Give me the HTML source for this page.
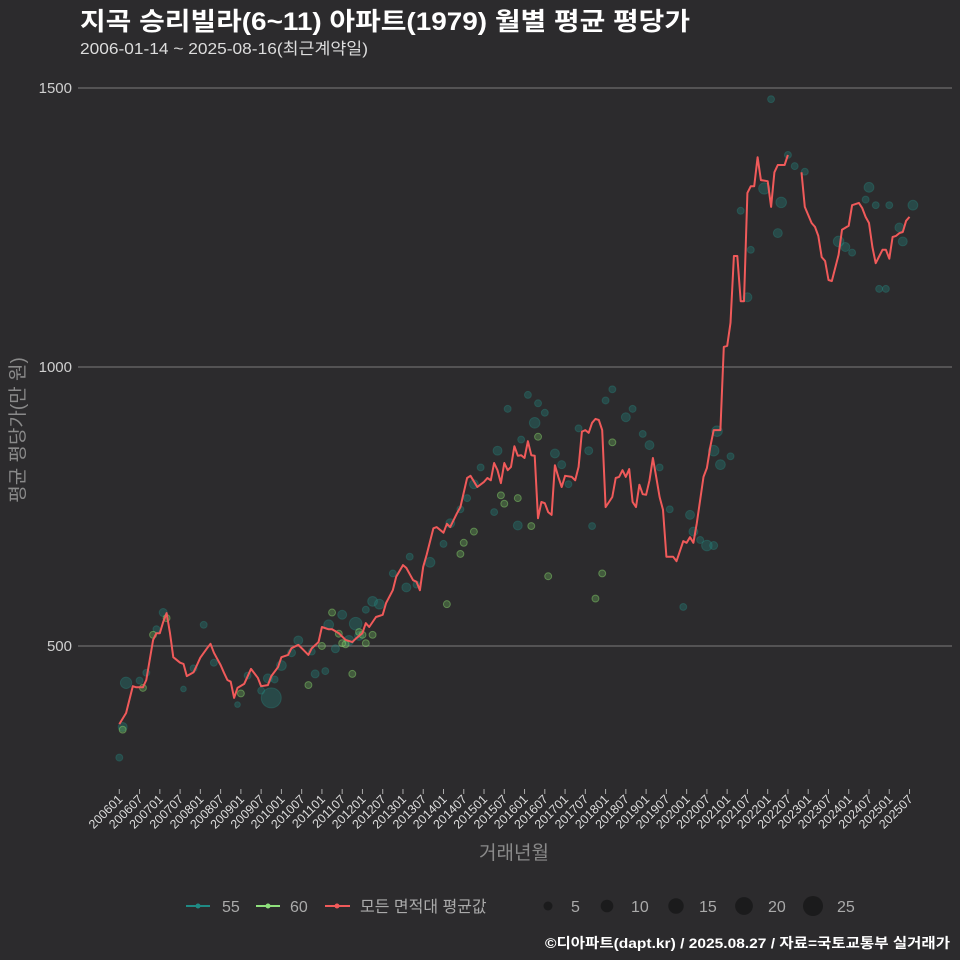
<!DOCTYPE html>
<html><head><meta charset="utf-8">
<style>
html,body{margin:0;padding:0;background:#2c2b2d;}
svg{display:block;font-family:"Liberation Sans","Noto Sans CJK KR",sans-serif;}
</style></head>
<body>
<svg id="chart" width="960" height="960" viewBox="0 0 960 960">
<rect x="0" y="0" width="960" height="960" fill="#2c2b2d"/>
<text x="80" y="30" fill="#ffffff" font-size="25" font-weight="bold" textLength="610" lengthAdjust="spacingAndGlyphs">지곡 승리빌라(6~11) 아파트(1979) 월별 평균 평당가</text>
<text x="80" y="54" fill="#dddddd" font-size="16" textLength="288" lengthAdjust="spacingAndGlyphs">2006-01-14 ~ 2025-08-16(최근계약일)</text>
<g id="grid"></g>
<g id="yticks"></g>
<g id="xticks"></g>
<g id="dots"></g>
<g id="line"></g>
<text transform="translate(24,430) rotate(-90)" text-anchor="middle" fill="#8a8a8a" font-size="19">평균 평당가(만 원)</text>
<text x="514" y="859" text-anchor="middle" fill="#8a8a8a" font-size="19">거래년월</text>
<g>
 <g>
  <line x1="186" y1="906" x2="210" y2="906" stroke="#1f8a84" stroke-width="2"/><circle cx="198" cy="906" r="2.5" fill="#1f8a84"/>
  <text x="222" y="912" fill="#aaaaaa" font-size="16">55</text></g>
 <g>
  <line x1="256" y1="906" x2="280" y2="906" stroke="#8fe07c" stroke-width="2"/><circle cx="268" cy="906" r="2.5" fill="#8fe07c"/>
  <text x="290" y="912" fill="#aaaaaa" font-size="16">60</text></g>
 <g>
  <line x1="325" y1="906" x2="350" y2="906" stroke="#f05a5a" stroke-width="2"/><circle cx="337" cy="906" r="2.5" fill="#f05a5a"/>
  <text x="360" y="912" fill="#aaaaaa" font-size="16">모든 면적대 평균값</text></g>
 <g>
  <circle cx="548" cy="906" r="4.5" fill="#1b1b1c"/><text x="571" y="912" fill="#aaaaaa" font-size="16">5</text>
  <circle cx="607" cy="906" r="6.3" fill="#1b1b1c"/><text x="631" y="912" fill="#aaaaaa" font-size="16">10</text>
  <circle cx="676" cy="906" r="7.7" fill="#1b1b1c"/><text x="699" y="912" fill="#aaaaaa" font-size="16">15</text>
  <circle cx="744" cy="906" r="8.9" fill="#1b1b1c"/><text x="768" y="912" fill="#aaaaaa" font-size="16">20</text>
  <circle cx="813" cy="906" r="10" fill="#1b1b1c"/><text x="837" y="912" fill="#aaaaaa" font-size="16">25</text>
 </g>
</g>
<text x="950" y="948" text-anchor="end" fill="#ffffff" font-size="14" font-weight="bold" textLength="405" lengthAdjust="spacingAndGlyphs">©디아파트(dapt.kr) / 2025.08.27 / 자료=국토교통부 실거래가</text>
</svg>
<script>
// months since 2006-01 and monthly average values (만 원/평)
const avgMonths = [0,2,4,5,7,8,9,10,11,12,13,14,15,16,18,19,20,22,23,24,26,27,28,29,30,31,32,33,34,35,37,39,41,42,44,45,47,48,50,51,53,54,56,57,59,60,62,63,65,67,69,70,72,73,74,75,76,78,79,81,82,84,85,87,88,89,90,91,93,94,96,97,98,100,101,103,104,106,108,109,110,111,112,113,114,115,116,117,118,119,120,121,122,123,124,125,126,127,128,129,130,131,132,134,135,136,137,138,139,140,141,142,143,144,145,146,147,148,149,150,151,152,153,154,155,156,157,158,159,160,161,162,163,164,165,167,168,169,170,171,173,174,175,176,178,179,180,181,182,183,184,185,186,187,188,189,190,192,193,194,195,197,198,202,203,205,206,207,208,209,210,211,213,214,216,217,219,220,221,222,223,224,226,227,228,229,230,231,232,233,234];
const avgValues = [360,380,428,426,426,439,475,511,523,523,543,559,523,480,470,468,446,453,466,479,496,504,488,477,466,452,439,436,407,425,432,459,443,428,430,446,462,480,484,496,502,496,484,496,507,534,530,530,523,511,507,513,523,541,534,543,552,556,577,600,624,645,640,618,615,600,642,663,711,713,703,719,713,738,749,801,805,785,794,801,797,828,815,792,828,815,821,858,841,842,837,867,842,841,729,758,756,740,735,824,803,785,805,803,797,821,884,887,882,900,907,905,887,749,758,767,801,803,815,803,817,758,749,789,772,771,797,837,803,767,744,660,660,660,652,688,685,695,685,720,803,819,857,887,887,1036,1038,1079,1199,1199,1118,1118,1312,1324,1324,1376,1335,1333,1287,1349,1362,1362,1380,1349,1287,1258,1251,1235,1197,1190,1156,1154,1201,1246,1253,1290,1294,1285,1269,1258,1215,1186,1210,1210,1194,1233,1235,1240,1242,1262,1269];
// area 55 transactions
const t55Months = [0,1,2,6,8,11,13,19,22,25,28,35,38,42,44,45,46,48,51,53,57,58,61,62,64,66,68,70,71,73,75,77,81,85,86,88,92,96,98,101,103,105,107,111,112,115,118,119,121,123,124,126,129,131,133,136,139,140,144,146,150,152,155,157,160,163,167,169,170,172,174,176,176,177,178,181,184,186,187,191,193,195,196,198,200,203,213,215,217,221,222,224,225,227,228,231,232,235];
const t55Values = [300,355,434,438,452,530,560,423,460,538,470,395,447,420,442,407,440,465,488,510,490,450,455,538,495,556,510,540,518,565,580,575,630,605,660,610,650,683,720,745,765,790,820,740,850,925,716,870,950,900,935,918,845,825,790,890,850,715,940,960,910,925,880,860,820,745,570,735,705,690,680,680,850,885,825,840,1280,1125,1210,1320,1480,1240,1295,1380,1360,1350,1225,1215,1205,1300,1322,1290,1140,1140,1290,1250,1225,1290];
const t55Counts = [3,5,8,3,3,3,4,2,3,3,3,2,3,3,5,25,3,6,4,5,3,4,3,6,4,5,6,10,5,3,6,6,3,5,3,3,6,3,5,3,3,5,3,3,5,3,5,3,3,7,3,3,5,4,3,3,4,3,3,3,5,3,3,5,3,3,3,5,5,3,7,4,7,7,6,3,3,5,3,8,3,5,7,3,3,3,7,5,3,3,6,3,3,3,3,5,5,6];
// area 60 transactions
const t60Months = [1,7,10,14,36,56,60,63,65,66,67,69,71,72,73,75,97,101,102,105,113,114,118,122,124,127,141,143,146];
const t60Values = [350,425,520,550,415,430,500,560,522,505,503,450,525,520,505,520,575,665,685,705,770,755,765,715,875,625,585,630,865];
const t60Counts = [3,3,3,3,3,3,3,3,3,3,3,3,3,3,3,3,3,3,3,3,3,3,3,3,3,3,3,3,3];
const yTicks = [500,1000,1500];
const xTickLabels = [];
for (let i = 0; i <= 234; i += 6) {
  const y = 2006 + Math.floor(i / 12), m = i % 12 + 1;
  xTickLabels.push(String(y) + (m < 10 ? '0' : '') + m);
}

const NS = 'http://www.w3.org/2000/svg';
const X0 = 119.3, PXM = 3.377;
const xScale = m => X0 + m * PXM;
const yScale = v => 646 - (v - 500) * 279 / 500;
function mk(tag, attrs, parent) {
  const e = document.createElementNS(NS, tag);
  for (const k in attrs) e.setAttribute(k, attrs[k]);
  parent.appendChild(e);
  return e;
}
const grid = document.getElementById('grid');
const yt = document.getElementById('yticks');
yTicks.forEach(v => {
  const l = mk('line', {x1: 78, x2: 952, y1: yScale(v), y2: yScale(v), stroke: '#6b6b6b', 'stroke-width': 1.2}, grid);
  
  
  const t = mk('text', {x: 72, y: yScale(v) + 5, 'text-anchor': 'end', fill: '#cfcfcf', 'font-size': 15}, yt);
  t.textContent = v;
  
  
});
const xt = document.getElementById('xticks');
xTickLabels.forEach((lab, i) => {
  const x = xScale(i * 6);
  const tk = mk('line', {x1: x, x2: x, y1: 789, y2: 794, stroke: '#aaaaaa', 'stroke-width': 1}, xt);
  
  
  const t = mk('text', {transform: 'translate(' + (x + 4) + ',800) rotate(-45)', 'text-anchor': 'end', fill: '#dddddd', 'font-size': 12.5}, xt);
  t.textContent = lab;
  
  
});
const dots = document.getElementById('dots');
function drawDots(ms, vs, cs, fill, stroke, name) {
  ms.forEach((m, i) => {
    const c = mk('circle', {cx: xScale(m), cy: yScale(vs[i]), r: 2 * Math.sqrt(cs[i]), fill: fill, stroke: stroke, 'stroke-width': 1}, dots);
    
    
  });
}
drawDots(t55Months, t55Values, t55Counts, 'rgba(34,128,122,0.35)', 'rgba(40,150,140,0.3)', 'point-55');
drawDots(t60Months, t60Values, t60Counts, 'rgba(120,200,100,0.3)', 'rgba(140,220,110,0.45)', 'point-60');
const lineG = document.getElementById('line');
let d = '';
avgMonths.forEach((m, i) => {
  const brk = i === 0 || m - avgMonths[i - 1] > 3;
  d += (brk ? 'M' : 'L') + xScale(m).toFixed(1) + ',' + yScale(avgValues[i]).toFixed(1);
});
const p = mk('path', {d: d, fill: 'none', stroke: '#f05a5a', 'stroke-width': 2, 'stroke-linejoin': 'round'}, lineG);


</script>
</body></html>
